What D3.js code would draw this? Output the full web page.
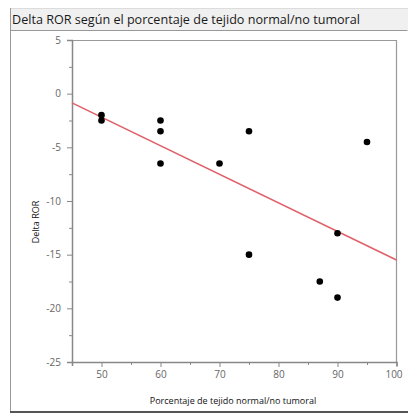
<!DOCTYPE html>
<html><head><meta charset="utf-8">
<script src="https://cdn.jsdelivr.net/npm/d3@7"></script>
<style>body{margin:0;background:#fff;}svg{display:block;}</style>
</head><body>
<svg id="c" width="408" height="414"></svg>
<script>
const title = "Delta ROR según el porcentaje de tejido normal/no tumoral";
const xLabel = "Porcentaje de tejido normal/no tumoral";
const yLabel = "Delta ROR";
const xValues = [50, 50, 60, 60, 60, 70, 75, 75, 87, 90, 90, 95];
const yValues = [-2, -2.5, -2.5, -3.5, -6.5, -6.5, -3.5, -15, -17.5, -13, -19, -4.5];
const xTickValues = [50, 60, 70, 80, 90, 100];
const yTickValues = [5, 0, -5, -10, -15, -20, -25];

const svg = d3.select("#c");
// header
svg.append("rect").attr("x",10).attr("y",8).attr("width",398).attr("height",22).attr("fill","#f0f0f0");
svg.append("line").attr("x1",10).attr("x2",408).attr("y1",8.5).attr("y2",8.5).attr("stroke","#dcdcdc");
svg.append("text").attr("x",12).attr("y",24).attr("font-family","Open Sans, sans-serif").attr("font-size",12.6)
  .attr("fill","#1a1a1a").text(title);
// outer box
svg.append("path").attr("d","M10.5,30.5H407.5M10.5,8V412.5").attr("fill","none").attr("stroke","#999").attr("stroke-width",1);
svg.append("line").attr("x1",10).attr("x2",408).attr("y1",412).attr("y2",412).attr("stroke","#555").attr("stroke-width",2);

const x = d3.scaleLinear().domain([45,100]).range([72,396.5]);
const y = d3.scaleLinear().domain([-25,5]).range([362,40]);

const g = svg.append("g");
// frame top & right
g.append("path").attr("d",`M${x(45)},${y(5)+0.5}H${x(100)}V${y(-25)}`).attr("fill","none").attr("stroke","#999").attr("stroke-width",1.2);

const xAxis = g.append("g").attr("transform",`translate(0,${y(-25)})`)
  .call(d3.axisBottom(x).tickValues(d3.range(45,101,5)).tickSize(4).tickFormat(d=>xTickValues.includes(d)?d:""));
xAxis.selectAll(".tick line").attr("y2",d=>xTickValues.includes(d)?5:3);
const yAxis = g.append("g").attr("transform",`translate(${x(45)},0)`)
  .call(d3.axisLeft(y).tickValues(d3.range(-25,5.1,2.5)).tickSize(5).tickFormat(d=>yTickValues.includes(d)?d:""));
yAxis.selectAll(".tick line").attr("x2",d=>yTickValues.includes(d)?-5:-3);
[xAxis,yAxis].forEach(a=>{
  a.select(".domain").attr("stroke","#888").attr("stroke-width",1.5);
  a.selectAll(".tick line").attr("stroke","#888");
  a.selectAll("text").attr("fill","#666").attr("font-family","Open Sans, sans-serif").attr("font-size",10);
});
xAxis.selectAll("text").attr("dy","0.9em").attr("y",7).attr("dx",d=>d===100?-3:0);
yAxis.selectAll("text").attr("x",-11);

// regression line (least squares fit of the points)
const n = xValues.length;
const mx = d3.mean(xValues), my = d3.mean(yValues);
let sxy=0,sxx=0;
for(let i=0;i<n;i++){sxy+=(xValues[i]-mx)*(yValues[i]-my);sxx+=(xValues[i]-mx)**2;}
const b = sxy/sxx, a0 = my - b*mx;
g.append("line").attr("x1",x(45)).attr("y1",y(a0+b*45)).attr("x2",x(100)).attr("y2",y(a0+b*100))
  .attr("stroke","#e0606a").attr("stroke-width",1.6);

g.selectAll("circle").data(xValues).join("circle")
  .attr("cx",(d,i)=>x(d)).attr("cy",(d,i)=>y(yValues[i])).attr("r",3.3).attr("fill","#000");

svg.append("text").attr("transform",`translate(39,222) rotate(-90)`).attr("text-anchor","middle")
  .attr("font-family","Open Sans, sans-serif").attr("font-size",9).attr("fill","#111").text(yLabel);
svg.append("text").attr("x",233).attr("y",404).attr("text-anchor","middle")
  .attr("font-family","Open Sans, sans-serif").attr("font-size",9).attr("fill","#111").text(xLabel);
</script>
</body></html>
